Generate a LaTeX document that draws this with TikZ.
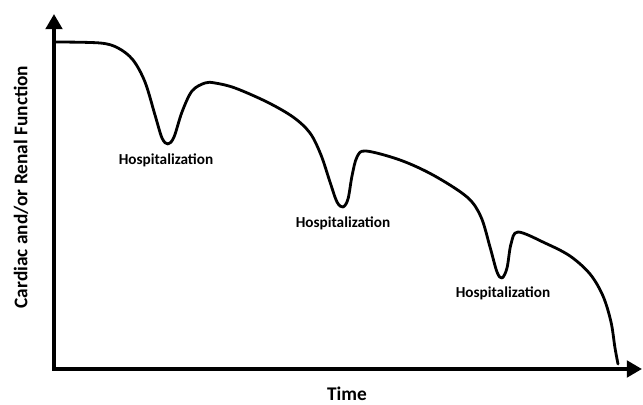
\documentclass[tikz,border=0pt]{standalone}
\usepackage{fontspec}
\setmainfont{Carlito}
\usetikzlibrary{arrows.meta}

\tikzset{
    axis/.style={line width=3.4pt, {Triangle[length=13pt,width=14pt]}-{Triangle[length=13pt,width=14pt]}},
    trend/.style={line width=2.4pt, line join=round, line cap=round},
    hosp/.style={font=\fontsize{13}{15}\selectfont\bfseries},
    axlabel/.style={font=\fontsize{16.5}{19}\selectfont\bfseries}
}

\begin{document}
\begin{tikzpicture}[x=0.03cm, y=-0.03cm]
    \useasboundingbox (0,0) rectangle (643,405);
    % axes
    \coordinate (origin) at (54,369);
    \coordinate (ytip) at (54,14);
    \coordinate (xtip) at (642,369);
    \draw[axis] (ytip) -- (origin) -- (xtip);
    % function over time
    \draw[trend] plot[smooth, tension=0.55] coordinates {
        (56,42) (100,43) (118,48) (133,60) (145,82) (155,115) (162,138) (168,144)
        (174,137) (182,112) (192,91) (205,83) (215,83) (235,88) (267,102) (293,117)
        (310,133) (321,155) (330,182) (337,202) (343,207) (348,199) (352,176)
        (357,157) (366,151) (400,160) (433,175) (467,197) (481,217) (490,247)
        (497,272) (502,278) (507,268) (511,244) (518,232) (545,243) (570,256)
        (590,274) (603,296) (611,322) (615,348) (618,364)};
    % labels
    \node[hosp] (hosp1) at (166,160) {Hospitalization};
    \node[hosp] (hosp2) at (343,223) {Hospitalization};
    \node[hosp] (hosp3) at (503,293) {Hospitalization};
    \node[axlabel] (tlab) at (347,394) {Time};
    \node[axlabel, rotate=90] (ylab) at (21,187) {Cardiac and/or Renal Function};
\end{tikzpicture}
\end{document}
